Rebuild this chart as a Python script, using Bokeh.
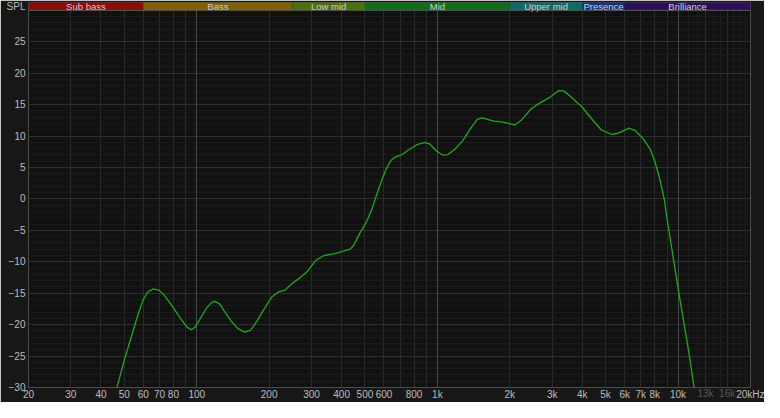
from bokeh.plotting import figure
from bokeh.models import Range1d, FixedTicker, Grid, Span, ColumnDataSource, LogAxis
from bokeh.core.properties import value
from bokeh.embed import file_html
from bokeh.resources import INLINE

# ---- data ----
freq_hz = [45, 46.6, 50.4, 54.5, 57.1, 59.8, 62.6, 66.0, 69.9, 73.2, 79.2, 85.6,
           91.1, 94.9, 98.5, 103.2, 109.9, 115.1, 118.7, 124.4, 130.1, 138.8,
           147.8, 158, 167.4, 178.2, 189.9, 205, 218.2, 232, 247.3, 263, 289,
           312.5, 338, 371, 400.9, 434, 447, 476, 507, 531, 556, 583, 611, 640,
           671, 714, 760, 822, 889, 930, 991, 1056, 1106, 1177, 1273, 1376,
           1464, 1534, 1608, 1710, 1850, 1968, 2096, 2232, 2450, 2648, 2908,
           3194, 3346, 3564, 3972, 4362, 4790, 5310, 5690, 6248, 6646, 7190,
           7647, 8014, 8396, 8800, 8938, 10000, 11120, 11658, 12200]
spl_db = [-31.5, -30.0, -25.2, -20.9, -18.35, -16.1, -14.8, -14.3, -14.55, -15.3,
          -17.1, -19.0, -20.4, -20.8, -20.4, -19.1, -17.35, -16.5, -16.3, -16.7,
          -17.85, -19.4, -20.6, -21.2, -20.9, -19.4, -17.6, -15.6, -14.8, -14.55,
          -13.55, -12.8, -11.5, -9.75, -9.0, -8.74, -8.4, -7.98, -7.5, -5.44,
          -3.68, -1.9, 0.38, 2.66, 4.68, 6.1, 6.7, 7.06, 7.82, 8.63, 8.99, 8.73,
          7.62, 6.96, 7.06, 7.82, 9.24, 11.27, 12.64, 12.88, 12.68, 12.38,
          12.27, 12.03, 11.77, 12.53, 14.3, 15.2, 16.07, 17.24, 17.19, 16.33,
          14.7, 12.79, 11.0, 10.25, 10.5, 11.27, 10.86, 9.49, 7.97, 5.95, 3.16,
          -0.38, -2.4, -14.2, -24.7, -30.0, -34.0]

band_names = ["Sub bass", "Bass", "Low mid", "Mid", "Upper mid", "Presence", "Brilliance"]
band_lo = [20, 60, 250, 500, 2000, 4000, 6000]
band_hi = [60, 250, 500, 2000, 4000, 6000, 20000]
band_colors = ["#8a0b0b", "#7e6209", "#4b7012", "#0f6d1c", "#0f6b66", "#15327a", "#2d0f56"]

x_tick_vals = [20, 30, 40, 50, 60, 70, 80, 100, 200, 300, 400, 500, 600, 800,
               1000, 2000, 3000, 4000, 5000, 6000, 7000, 8000, 10000, 20000]
x_tick_text = ["20", "30", "40", "50", "60", "70", "80", "100", "200", "300",
               "400", "500", "600", "800", "1k", "2k", "3k", "4k", "5k", "6k",
               "7k", "8k", "10k", "20kHz"]
dim_tick_vals = [13000, 16000]
dim_tick_text = ["13k", "16k"]
y_tick_vals = [-30, -25, -20, -15, -10, -5, 0, 5, 10, 15, 20, 25]
y_title = "SPL"

x_grid_lines = [20, 30, 40, 50, 60, 70, 80, 90, 200, 300, 400, 500, 600, 700,
                800, 900, 2000, 3000, 4000, 5000, 6000, 7000, 8000, 9000,
                13000, 16000]
x_grid_minor = [11000, 12000, 14000, 15000, 17000, 18000, 19000]
x_grid_bright = [100, 1000, 10000]

Y_TOP = 31.25
Y_BAND = (30 + Y_TOP) / 2
FONT = "Liberation Sans"
LABEL_COLOR = "#bdbdbd"

p = figure(width=764, height=402, x_axis_type="log",
           x_range=Range1d(20, 20000), y_range=Range1d(-30, Y_TOP),
           output_backend="svg", toolbar_location=None,
           background_fill_color="#111111", border_fill_color="#171717",
           outline_line_color=None,
           min_border_left=28, min_border_right=14, min_border_top=2,
           min_border_bottom=14)

# grids
p.xgrid.ticker = FixedTicker(ticks=x_grid_lines, minor_ticks=x_grid_minor)
p.xgrid.grid_line_color = "#2b2b2b"
p.xgrid.minor_grid_line_color = "#1d1d1d"
p.ygrid.ticker = FixedTicker(ticks=y_tick_vals,
                             minor_ticks=[v for v in range(-30, 30) if v % 5 != 0])
p.ygrid.grid_line_color = "#2f2f2f"
p.ygrid.minor_grid_line_color = "#1b1b1b"
p.add_layout(Grid(dimension=0, ticker=FixedTicker(ticks=x_grid_bright),
                  grid_line_color="#484848"))


def style_axis(ax, color):
    ax.axis_line_color = None
    ax.major_tick_line_color = None
    ax.minor_tick_line_color = None
    ax.major_tick_out = 0
    ax.major_tick_in = 0
    ax.minor_tick_out = 0
    ax.minor_tick_in = 0
    ax.major_label_text_color = color
    ax.major_label_text_font = FONT
    ax.major_label_text_font_size = "10px"


style_axis(p.xaxis[0], LABEL_COLOR)
style_axis(p.yaxis[0], LABEL_COLOR)
p.xaxis.ticker = FixedTicker(ticks=x_tick_vals)
p.xaxis.major_label_overrides = dict(zip(x_tick_vals, x_tick_text))
p.xaxis.major_label_standoff = 1
p.yaxis.ticker = FixedTicker(ticks=y_tick_vals + [Y_BAND])
p.yaxis.major_label_overrides = {Y_BAND: y_title}
p.yaxis.major_label_standoff = 3

# dimmed labels for 13k / 16k, drawn on the same line as the main labels
dim_axis = LogAxis(ticker=FixedTicker(ticks=dim_tick_vals),
                   major_label_overrides=dict(zip(dim_tick_vals, dim_tick_text)))
style_axis(dim_axis, "#5a5a5a")
dim_axis.major_label_standoff = -15
p.add_layout(dim_axis, "below")

# frequency bands on top
src = ColumnDataSource(dict(lo=band_lo, hi=band_hi, color=band_colors, name=band_names,
                            mid=[(a * b) ** 0.5 for a, b in zip(band_lo, band_hi)]))
p.quad(left="lo", right="hi", bottom=30, top=Y_TOP + 1, fill_color="color",
       line_color=None, source=src)
p.text(x="mid", y=Y_BAND, text="name", source=src, text_color="#cfcfcf",
       text_font=value(FONT), text_font_size="9.5px", text_align="center",
       text_baseline="middle")
p.add_layout(Span(location=30, dimension="width", line_color="#5a5a5a", line_width=1))

# response curve
p.line(freq_hz, spl_db, line_color="#1fa81f", line_width=1.3, line_join="round")

open("out.html", "w").write(file_html(p, INLINE))
